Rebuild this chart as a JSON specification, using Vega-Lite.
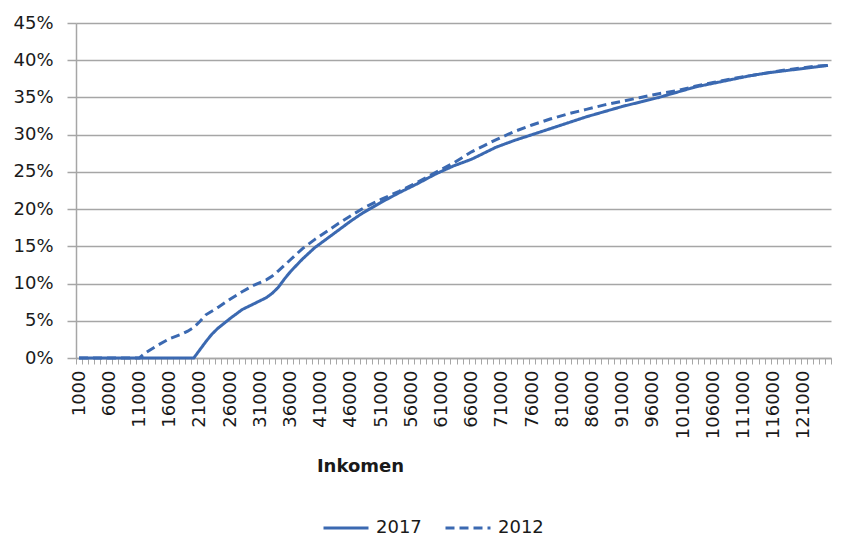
{
  "$schema": "https://vega.github.io/schema/vega-lite/v6.json",
  "width": 755,
  "height": 335,
  "autosize": {"type": "none"},
  "padding": {"left": 76, "top": 23, "right": 13, "bottom": 198},
  "background": "white",
  "config": {
    "view": {"stroke": null},
    "font": "DejaVu Sans",
    "axis": {"labelFont": "DejaVu Sans", "labelColor": "#1a1a1a", "titleColor": "#1a1a1a", "domainColor": "#a6a6a6", "tickColor": "#a6a6a6", "gridColor": "#a6a6a6"},
    "legend": {"labelFont": "DejaVu Sans", "labelColor": "#1a1a1a"}
  },
  "data": {"values": [
    {"year": "2017", "income": 1000, "share": 0},
    {"year": "2017", "income": 20000, "share": 0},
    {"year": "2017", "income": 22000, "share": 0.022},
    {"year": "2017", "income": 23000, "share": 0.032},
    {"year": "2017", "income": 24000, "share": 0.040},
    {"year": "2017", "income": 26000, "share": 0.053},
    {"year": "2017", "income": 28000, "share": 0.065},
    {"year": "2017", "income": 30000, "share": 0.073},
    {"year": "2017", "income": 32000, "share": 0.081},
    {"year": "2017", "income": 33000, "share": 0.087},
    {"year": "2017", "income": 34000, "share": 0.095},
    {"year": "2017", "income": 35000, "share": 0.106},
    {"year": "2017", "income": 36000, "share": 0.116},
    {"year": "2017", "income": 38000, "share": 0.133},
    {"year": "2017", "income": 40000, "share": 0.148},
    {"year": "2017", "income": 42000, "share": 0.160},
    {"year": "2017", "income": 44000, "share": 0.172},
    {"year": "2017", "income": 46000, "share": 0.184},
    {"year": "2017", "income": 48000, "share": 0.195},
    {"year": "2017", "income": 51000, "share": 0.209},
    {"year": "2017", "income": 54000, "share": 0.222},
    {"year": "2017", "income": 57000, "share": 0.234},
    {"year": "2017", "income": 60000, "share": 0.247},
    {"year": "2017", "income": 63000, "share": 0.258},
    {"year": "2017", "income": 66000, "share": 0.267},
    {"year": "2017", "income": 68000, "share": 0.275},
    {"year": "2017", "income": 70000, "share": 0.283},
    {"year": "2017", "income": 73000, "share": 0.292},
    {"year": "2017", "income": 76000, "share": 0.300},
    {"year": "2017", "income": 79000, "share": 0.308},
    {"year": "2017", "income": 82000, "share": 0.316},
    {"year": "2017", "income": 85000, "share": 0.324},
    {"year": "2017", "income": 88000, "share": 0.331},
    {"year": "2017", "income": 91000, "share": 0.338},
    {"year": "2017", "income": 94000, "share": 0.344},
    {"year": "2017", "income": 97000, "share": 0.350},
    {"year": "2017", "income": 100000, "share": 0.357},
    {"year": "2017", "income": 103000, "share": 0.364},
    {"year": "2017", "income": 106000, "share": 0.369},
    {"year": "2017", "income": 109000, "share": 0.374},
    {"year": "2017", "income": 112000, "share": 0.379},
    {"year": "2017", "income": 115000, "share": 0.383},
    {"year": "2017", "income": 118000, "share": 0.386},
    {"year": "2017", "income": 121000, "share": 0.389},
    {"year": "2017", "income": 123000, "share": 0.391},
    {"year": "2017", "income": 125000, "share": 0.393},
    {"year": "2012", "income": 1000, "share": 0},
    {"year": "2012", "income": 11000, "share": 0},
    {"year": "2012", "income": 12000, "share": 0.007},
    {"year": "2012", "income": 14000, "share": 0.017},
    {"year": "2012", "income": 16000, "share": 0.026},
    {"year": "2012", "income": 18000, "share": 0.032},
    {"year": "2012", "income": 19000, "share": 0.036},
    {"year": "2012", "income": 20000, "share": 0.041},
    {"year": "2012", "income": 21000, "share": 0.049},
    {"year": "2012", "income": 22000, "share": 0.058},
    {"year": "2012", "income": 24000, "share": 0.068},
    {"year": "2012", "income": 26000, "share": 0.079},
    {"year": "2012", "income": 28000, "share": 0.089},
    {"year": "2012", "income": 30000, "share": 0.098},
    {"year": "2012", "income": 32000, "share": 0.105},
    {"year": "2012", "income": 33000, "share": 0.110},
    {"year": "2012", "income": 34000, "share": 0.117},
    {"year": "2012", "income": 36000, "share": 0.132},
    {"year": "2012", "income": 38000, "share": 0.147},
    {"year": "2012", "income": 40000, "share": 0.159},
    {"year": "2012", "income": 42000, "share": 0.170},
    {"year": "2012", "income": 44000, "share": 0.181},
    {"year": "2012", "income": 46000, "share": 0.191},
    {"year": "2012", "income": 48000, "share": 0.201},
    {"year": "2012", "income": 51000, "share": 0.213},
    {"year": "2012", "income": 54000, "share": 0.224},
    {"year": "2012", "income": 57000, "share": 0.236},
    {"year": "2012", "income": 60000, "share": 0.249},
    {"year": "2012", "income": 63000, "share": 0.262},
    {"year": "2012", "income": 66000, "share": 0.277},
    {"year": "2012", "income": 68000, "share": 0.285},
    {"year": "2012", "income": 70000, "share": 0.293},
    {"year": "2012", "income": 73000, "share": 0.304},
    {"year": "2012", "income": 76000, "share": 0.313},
    {"year": "2012", "income": 79000, "share": 0.321},
    {"year": "2012", "income": 82000, "share": 0.328},
    {"year": "2012", "income": 85000, "share": 0.334},
    {"year": "2012", "income": 88000, "share": 0.340},
    {"year": "2012", "income": 91000, "share": 0.345},
    {"year": "2012", "income": 94000, "share": 0.350},
    {"year": "2012", "income": 97000, "share": 0.355},
    {"year": "2012", "income": 100000, "share": 0.359},
    {"year": "2012", "income": 103000, "share": 0.365},
    {"year": "2012", "income": 106000, "share": 0.370},
    {"year": "2012", "income": 109000, "share": 0.375},
    {"year": "2012", "income": 112000, "share": 0.379},
    {"year": "2012", "income": 115000, "share": 0.383},
    {"year": "2012", "income": 118000, "share": 0.387},
    {"year": "2012", "income": 121000, "share": 0.390},
    {"year": "2012", "income": 123000, "share": 0.392},
    {"year": "2012", "income": 125000, "share": 0.393}
  ]},
  "resolve": {"axis": {"x": "independent"}},
  "layer": [
    {
      "mark": {"type": "point", "opacity": 0},
      "encoding": {
        "x": {"field": "income", "type": "quantitative", "scale": {"domain": [500, 125500], "nice": false, "zero": false},
          "axis": {"orient": "bottom", "values": [500,1500,2500,3500,4500,5500,6500,7500,8500,9500,10500,11500,12500,13500,14500,15500,16500,17500,18500,19500,20500,21500,22500,23500,24500,25500,26500,27500,28500,29500,30500,31500,32500,33500,34500,35500,36500,37500,38500,39500,40500,41500,42500,43500,44500,45500,46500,47500,48500,49500,50500,51500,52500,53500,54500,55500,56500,57500,58500,59500,60500,61500,62500,63500,64500,65500,66500,67500,68500,69500,70500,71500,72500,73500,74500,75500,76500,77500,78500,79500,80500,81500,82500,83500,84500,85500,86500,87500,88500,89500,90500,91500,92500,93500,94500,95500,96500,97500,98500,99500,100500,101500,102500,103500,104500,105500,106500,107500,108500,109500,110500,111500,112500,113500,114500,115500,116500,117500,118500,119500,120500,121500,122500,123500,124500,125500],
            "labels": false, "grid": false, "domain": true, "domainWidth": 1.5, "ticks": true, "tickSize": 6, "tickWidth": 1, "title": null}},
        "y": {"field": "share", "type": "quantitative", "scale": {"domain": [0, 0.45], "nice": false},
          "axis": {"values": [0,0.05,0.1,0.15,0.2,0.25,0.3,0.35,0.4,0.45], "format": ".0%", "labelFontSize": 18, "labelPadding": 14, "labelOverlap": false, "tickSize": 9, "tickWidth": 1.5, "grid": true, "gridWidth": 1.5, "domainWidth": 1.5, "title": null}}
      }
    },
    {
      "mark": {"type": "line", "strokeWidth": 3},
      "encoding": {
        "x": {"field": "income", "type": "quantitative",
          "axis": {"orient": "bottom", "values": [1000,6000,11000,16000,21000,26000,31000,36000,41000,46000,51000,56000,61000,66000,71000,76000,81000,86000,91000,96000,101000,106000,111000,116000,121000],
            "format": "d", "labelAngle": -90, "labelFontSize": 18, "labelPadding": 12, "labelOverlap": false, "ticks": false, "tickSize": 0, "domain": false, "grid": false,
            "title": "Inkomen", "titleFontSize": 18, "titleFontWeight": "bold", "titleX": 284, "titleY": 113, "titleBaseline": "alphabetic", "titleAnchor": "middle", "titleAlign": "center"}},
        "y": {"field": "share", "type": "quantitative",
          "axis": {"values": [0,0.05,0.1,0.15,0.2,0.25,0.3,0.35,0.4,0.45], "format": ".0%", "labelFontSize": 18, "labelPadding": 14, "labelOverlap": false, "tickSize": 9, "tickWidth": 1.5, "grid": true, "gridWidth": 1.5, "domainWidth": 1.5, "title": null}},
        "color": {"field": "year", "type": "nominal", "scale": {"domain": ["2017", "2012"], "range": ["#3b69b1", "#3b69b1"]},
          "legend": {"orient": "none", "legendX": 246, "legendY": 481, "direction": "horizontal", "title": null, "symbolType": "stroke", "symbolSize": 2025, "symbolStrokeWidth": 3, "labelFontSize": 18, "labelOffset": 6, "columnPadding": 17}},
        "strokeDash": {"field": "year", "type": "nominal", "scale": {"domain": ["2017", "2012"], "range": [[1, 0], [9, 5]]},
          "legend": {"orient": "none", "legendX": 246, "legendY": 481, "direction": "horizontal", "title": null, "symbolType": "stroke", "symbolSize": 2025, "symbolStrokeWidth": 3, "labelFontSize": 18, "labelOffset": 6, "columnPadding": 17}}
      }
    }
  ]
}
